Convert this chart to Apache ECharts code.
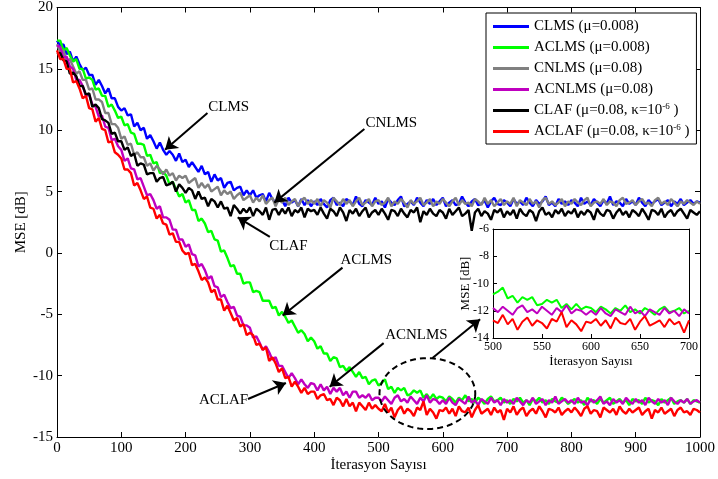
<!DOCTYPE html>
<html>
<head>
<meta charset="utf-8">
<script src="https://cdn.jsdelivr.net/npm/echarts@6/dist/echarts.min.js"></script>
<style>
  html, body { margin: 0; padding: 0; background: #fff; }
  #chart { width: 718px; height: 479px; }
</style>
</head>
<body>
<div id="chart"></div>
<script>
// MSE learning curves (dB), one sample every STEP iterations from 0 to 1000
const STEP = 5;

const clms = [
  17.3,16.9,17.0,16.2,16.4,15.6,16.0,15.4,14.9,15.1,14.5,14.5,13.7,14.1,13.6,13.0,13.4,12.6,12.6,11.9,
  11.6,11.8,11.2,11.3,10.3,10.6,10.0,10.2,9.3,9.6,9.1,8.5,9.0,8.4,8.0,8.3,8.0,7.5,8.1,7.4,
  7.6,7.0,7.4,7.0,6.6,7.1,6.4,6.6,5.8,6.4,5.9,6.1,5.3,5.7,5.8,5.1,5.3,5.4,4.7,5.1,
  4.7,5.1,4.5,4.7,4.8,4.2,4.9,4.4,4.1,4.6,4.3,3.8,4.5,4.1,4.3,3.8,4.4,3.9,4.3,3.8,
  4.2,3.9,4.4,4.0,3.7,4.3,4.5,3.9,4.1,3.8,4.4,4.2,3.9,4.6,4.0,3.8,4.3,4.1,3.9,4.5,
  4.0,4.2,3.7,4.4,4.1,3.9,4.3,4.6,3.8,4.0,4.2,3.9,4.5,4.1,3.8,4.3,4.0,4.4,3.9,4.2,
  4.5,3.8,4.1,4.3,3.9,4.0,4.6,4.1,3.8,4.2,4.4,3.9,4.0,4.3,3.7,4.2,4.5,4.0,3.9,4.3,
  4.1,3.8,4.4,4.0,4.2,3.9,4.5,4.1,3.8,4.3,4.0,4.2,4.6,3.9,4.1,3.8,4.4,4.0,4.2,3.9,
  4.3,4.1,3.8,4.5,4.0,4.2,3.9,4.4,4.1,3.8,4.3,4.0,4.6,3.9,4.2,4.1,3.8,4.4,4.0,4.2,
  3.9,4.5,4.1,3.8,4.3,4.0,4.2,4.4,3.9,4.1,4.3,3.8,4.2,4.0,4.4,3.9,4.1,4.3,4.0,4.2,4.1
];

const aclms = [
  17.3,17.3,16.5,16.7,16.1,15.6,15.8,15.0,15.0,14.2,14.3,14.1,13.3,13.4,12.8,12.8,11.9,12.1,11.6,11.0,
  11.1,10.4,10.5,9.8,9.7,8.9,8.9,8.8,7.9,8.0,7.3,7.4,6.5,6.6,6.3,5.6,5.8,5.2,4.6,4.8,
  4.1,4.3,3.5,3.5,2.6,2.8,2.4,1.7,1.8,1.1,1.0,0.1,0.2,-0.4,-1.1,-1.0,-1.7,-1.7,-2.5,-2.4,
  -2.4,-3.2,-3.1,-3.2,-3.9,-3.9,-3.9,-4.5,-4.4,-5.1,-4.8,-5.2,-5.7,-5.5,-6.0,-6.5,-6.3,-6.6,-7.2,-6.9,
  -7.2,-7.8,-7.6,-8.2,-8.2,-8.8,-8.5,-8.6,-9.3,-9.2,-9.6,-9.3,-9.7,-10.1,-9.7,-10.2,-10.1,-10.7,-10.4,-10.3,
  -10.8,-10.6,-10.3,-11.1,-10.9,-11.4,-11.0,-11.2,-11.0,-11.6,-11.5,-11.2,-11.4,-11.2,-11.8,-11.5,-11.9,-11.5,-11.9,-11.7,
  -11.8,-12.1,-11.7,-11.9,-12.2,-11.8,-12.0,-11.6,-12.1,-11.9,-12.2,-11.8,-12.0,-12.3,-11.9,-11.7,-12.1,-12.0,-11.8,-12.2,
  -12.0,-12.3,-11.9,-12.1,-11.8,-12.2,-12.0,-12.4,-11.9,-12.1,-11.8,-12.2,-12.0,-12.3,-11.9,-12.1,-12.2,-11.8,-12.0,-12.3,
  -12.1,-11.9,-12.2,-12.0,-12.4,-11.8,-12.1,-12.0,-12.3,-11.9,-12.2,-12.0,-11.8,-12.3,-12.1,-11.9,-12.2,-12.0,-12.4,-11.9,
  -12.1,-12.0,-12.3,-11.8,-12.2,-12.0,-12.1,-12.4,-11.9,-12.2,-12.0,-11.8,-12.3,-12.1,-12.0,-12.2,-11.9,-12.3,-12.0,-12.1,-12.2
];

const cnlms = [
  17.0,16.4,16.5,15.6,15.8,15.2,14.6,14.8,14.1,14.1,13.3,13.4,12.5,12.5,12.3,11.4,11.4,10.5,10.5,10.2,
  9.3,9.5,8.8,8.9,8.0,8.2,7.8,7.8,7.1,7.3,6.7,7.1,6.8,6.4,6.8,6.3,6.5,5.9,6.3,6.1,
  6.3,5.7,5.9,6.1,5.3,5.7,5.3,5.6,5.0,5.2,5.4,4.7,5.1,4.8,5.0,4.4,4.7,4.9,4.3,4.5,
  4.7,4.1,4.5,4.2,4.7,4.0,4.3,4.5,3.8,4.4,4.1,4.5,3.9,4.2,4.4,3.8,4.3,4.5,4.0,4.3,
  4.0,4.4,3.8,4.3,4.1,3.7,4.5,4.2,3.9,4.4,4.0,4.3,3.8,4.2,4.5,3.9,4.1,4.4,3.8,4.2,
  4.3,3.9,4.1,4.5,3.8,4.2,4.0,4.4,4.1,3.7,4.3,4.0,4.2,4.5,3.9,4.1,4.4,3.8,4.2,4.0,
  4.4,4.1,3.8,4.2,4.5,3.9,4.3,4.0,4.1,3.8,4.4,4.2,3.9,4.5,4.0,4.3,3.8,4.1,4.4,3.9,
  4.2,4.0,4.5,3.8,4.3,4.1,3.9,4.4,4.0,4.2,3.7,4.3,4.5,4.0,4.2,3.9,4.1,4.4,3.8,4.2,
  4.0,4.4,4.1,3.9,4.3,4.5,3.8,4.1,4.2,4.0,4.4,3.9,4.2,4.1,3.8,4.3,4.5,4.0,4.1,4.3,
  3.9,4.2,4.4,4.0,4.1,3.8,4.3,4.5,4.0,4.2,3.9,4.4,4.1,3.8,4.2,4.0,4.3,4.1,3.9,4.2,4.0
];

const acnlms = [
  16.9,16.8,15.9,16.0,15.2,15.0,14.1,14.1,13.6,12.8,12.9,12.1,11.9,11.1,11.2,10.3,10.2,9.2,9.3,8.7,
  8.4,7.5,7.7,6.9,6.8,6.0,6.1,5.4,4.7,4.8,4.3,3.6,3.8,2.9,2.9,2.7,1.9,1.9,1.1,1.1,
  0.5,0.7,-0.1,-0.2,-1.1,-0.9,-1.4,-2.1,-1.9,-2.7,-2.8,-3.6,-3.4,-4.0,-4.5,-4.4,-5.1,-5.2,-5.9,-5.9,
  -6.1,-6.9,-6.8,-7.3,-7.9,-7.6,-8.1,-8.7,-8.5,-9.2,-9.2,-9.7,-10.2,-9.8,-10.2,-10.7,-10.3,-10.7,-11.0,-10.6,
  -10.7,-11.2,-10.7,-11.2,-10.9,-11.5,-11.0,-11.3,-11.0,-11.6,-11.3,-11.8,-11.3,-11.3,-11.8,-11.6,-11.8,-11.5,-12.0,-11.8,
  -11.8,-12.1,-11.7,-12.0,-12.3,-11.8,-11.6,-12.1,-11.9,-12.2,-11.7,-12.0,-12.3,-11.8,-12.1,-11.6,-12.2,-11.9,-12.0,-12.3,
  -12.0,-12.3,-11.8,-12.2,-12.4,-11.9,-12.1,-12.3,-11.7,-12.2,-12.0,-12.4,-11.9,-12.1,-12.3,-11.8,-12.2,-12.0,-12.4,-11.9,
  -12.2,-12.0,-12.3,-11.8,-12.1,-12.4,-12.0,-12.2,-11.8,-12.3,-12.1,-11.9,-12.4,-12.0,-12.2,-11.7,-12.3,-12.1,-11.9,-12.2,
  -12.0,-12.3,-11.8,-12.2,-12.1,-12.4,-11.9,-12.2,-12.0,-11.7,-12.3,-12.1,-12.4,-11.9,-12.2,-12.0,-12.3,-11.8,-12.1,-12.3,
  -11.9,-12.2,-12.0,-12.4,-11.8,-12.1,-12.3,-11.9,-12.2,-12.0,-12.4,-11.8,-12.1,-12.3,-12.0,-12.2,-11.9,-12.3,-12.1,-12.0,-12.2
];

const claf = [
  16.2,16.3,15.7,15.6,14.6,14.7,14.4,13.6,13.6,12.9,13.0,11.9,12.1,11.8,10.9,10.8,10.6,9.7,9.8,9.1,
  9.1,8.4,8.6,7.9,8.1,7.1,7.3,7.2,6.4,6.5,6.5,5.8,6.1,6.2,5.5,5.6,5.8,5.0,5.6,5.3,
  4.9,5.3,5.1,4.4,5.0,4.4,4.5,3.8,4.4,4.2,3.7,4.2,3.6,3.7,3.0,3.9,3.6,3.2,3.6,3.3,
  3.7,3.0,3.6,3.4,3.1,3.7,2.7,3.5,3.6,3.1,3.6,3.2,3.7,3.0,3.5,3.3,3.7,2.9,3.6,3.4,
  3.5,3.1,3.7,3.2,2.8,3.6,3.4,3.0,3.7,3.3,2.6,3.5,3.2,3.6,3.0,3.4,3.7,2.9,3.3,3.5,
  3.1,3.6,3.2,2.7,3.5,3.4,3.0,3.6,3.2,2.9,3.5,3.3,3.7,2.5,3.4,3.1,3.6,3.2,3.0,3.5,
  3.3,2.8,3.6,3.1,3.4,3.7,3.0,3.2,3.5,1.8,3.3,3.6,3.0,3.4,3.2,2.7,3.5,3.3,3.6,2.9,
  3.4,3.1,3.5,2.8,3.6,3.2,3.0,3.5,3.3,2.6,3.4,3.7,3.1,3.3,2.9,3.5,3.2,3.6,3.0,3.4,
  3.2,3.6,2.9,3.4,3.1,3.5,3.3,2.7,3.6,3.2,3.0,3.5,3.4,2.8,3.3,3.6,3.1,3.4,2.9,3.5,
  3.3,3.0,3.6,3.2,2.7,3.5,3.4,3.1,3.6,2.9,3.3,3.5,3.0,3.4,3.6,3.2,2.8,3.5,3.3,3.1,3.4
];

const aclaf = [
  16.5,15.8,15.8,15.0,15.0,13.9,14.0,13.4,12.6,12.8,11.8,11.7,10.7,11.0,10.1,10.0,9.0,9.1,8.2,8.0,
  7.7,6.8,6.8,6.5,5.5,5.7,5.1,4.4,4.6,3.7,3.6,2.8,3.1,2.4,2.3,1.5,1.6,0.9,0.9,0.2,
  -0.1,0.0,-1.0,-0.9,-1.5,-2.2,-2.0,-2.4,-3.2,-3.0,-3.8,-3.8,-4.7,-4.3,-4.9,-5.5,-5.3,-6.0,-5.8,-6.7,
  -6.5,-6.7,-7.5,-7.4,-7.9,-7.7,-8.8,-8.5,-9.0,-9.7,-9.4,-10.2,-10.1,-10.9,-10.5,-10.9,-11.4,-11.0,-11.5,-11.3,
  -11.3,-11.9,-11.6,-11.5,-12.0,-11.9,-12.4,-11.8,-12.0,-12.5,-11.9,-12.5,-12.2,-12.9,-12.2,-12.5,-12.8,-12.2,-12.7,-12.4,
  -12.7,-12.9,-12.3,-13.0,-12.6,-13.4,-12.8,-12.5,-13.1,-12.7,-12.9,-13.3,-12.6,-12.8,-12.1,-13.2,-12.7,-13.0,-13.5,-12.8,
  -12.9,-12.6,-13.1,-12.7,-13.3,-12.5,-12.9,-13.0,-12.6,-13.4,-12.8,-12.4,-13.1,-12.9,-12.7,-13.2,-12.6,-13.0,-12.8,-13.6,
  -12.7,-13.0,-12.5,-13.2,-12.8,-12.6,-13.3,-12.9,-12.7,-13.1,-12.5,-12.9,-13.4,-12.7,-12.8,-13.0,-12.6,-13.2,-12.9,-12.7,
  -13.0,-12.6,-12.9,-13.3,-12.7,-12.5,-13.1,-12.8,-12.9,-13.4,-12.6,-12.8,-13.0,-12.7,-13.2,-12.5,-12.9,-13.1,-12.7,-13.0,
  -12.8,-12.6,-13.2,-12.9,-12.7,-13.5,-12.8,-13.0,-12.6,-13.1,-12.9,-12.7,-13.3,-12.8,-12.6,-13.0,-12.9,-13.2,-12.7,-12.8,-13.0
];

// Legend labels (the "^-6" part is set as a superscript)
const seriesNames = [
  'CLMS (μ=0.008)',
  'ACLMS (μ=0.008)',
  'CNLMS (μ=0.08)',
  'ACNLMS (μ=0.08)',
  'CLAF (μ=0.08, κ=10^-6 )',
  'ACLAF (μ=0.08, κ=10^-6 )'
];
const seriesColors = ['#0000ff', '#00ff00', '#808080', '#bf00bf', '#000000', '#ff0000'];
const seriesValues = [clms, aclms, cnlms, acnlms, claf, aclaf];

// Zoomed window
const insetRange = [500, 700];
const insetSeries = [1, 3, 5]; // ACLMS, ACNLMS, ACLAF

// Text callouts: [label, label position, arrow start, arrow tip] in (iteration, dB)
const callouts = [
  ['CLMS',   [267, 11.9],  [234, 11.4],  [168, 8.4]],
  ['CNLMS',  [520, 10.6],  [478, 10.1],  [338, 4.1]],
  ['CLAF',   [360, 0.55],  [331, 1.3],   [281, 2.9]],
  ['ACLMS',  [481, -0.6],  [444, -1.2],  [351, -5.1]],
  ['ACNLMS', [559, -6.7],  [508, -7.35], [424, -10.9]],
  ['ACLAF',  [259, -12.0], [297, -11.9], [356, -10.6]]
];
// Dashed ring around the zoomed region and the arrow pointing to the inset
const ringCenter = [576, -11.46];
const ringRadius = [74.5, 2.89];
const ringArrow = [[584, -8.57], [658, -5.4]];

const FONT = '"Liberation Serif", "Times New Roman", serif';
const iterations = clms.map((_, i) => i * STEP);
const toPairs = vals => vals.map((v, i) => [iterations[i], v]);
const plainNumber = v => String(v);

function axis(extra) {
  const base = {
    type: 'value',
    nameMoveOverlap: false,
    axisLine: { show: true, onZero: false, lineStyle: { color: '#000', width: 1 } },
    axisTick: { show: true, inside: true, length: 5, lineStyle: { color: '#000', width: 1 } },
    splitLine: { show: false },
    axisLabel: { color: '#000', fontFamily: FONT, fontSize: 15, margin: 4, formatter: plainNumber },
    nameTextStyle: { color: '#000', fontFamily: FONT, fontSize: 15 }
  };
  const out = Object.assign({}, base, extra);
  if (extra.axisLabel) out.axisLabel = Object.assign({}, base.axisLabel, extra.axisLabel);
  if (extra.nameTextStyle) out.nameTextStyle = Object.assign({}, base.nameTextStyle, extra.nameTextStyle);
  return out;
}

const xAxes = [
  axis({ gridIndex: 0, position: 'bottom', min: 0, max: 1000, interval: 100,
         name: 'İterasyon Sayısı', nameLocation: 'middle', nameGap: 21 }),
  axis({ gridIndex: 0, position: 'top', min: 0, max: 1000, interval: 100, axisLabel: { show: false } }),
  axis({ gridIndex: 1, position: 'bottom', min: insetRange[0], max: insetRange[1], interval: 50, z: 6,
         axisLabel: { fontSize: 12, margin: 3 },
         name: 'İterasyon Sayısı', nameLocation: 'middle', nameGap: 17, nameTextStyle: { fontSize: 13 },
         axisTick: { show: true, inside: true, length: 4, lineStyle: { color: '#000' } } }),
  axis({ gridIndex: 1, position: 'top', min: insetRange[0], max: insetRange[1], interval: 50, z: 6,
         axisLabel: { show: false }, axisTick: { show: false } })
];
const yAxes = [
  axis({ gridIndex: 0, position: 'left', min: -15, max: 20, interval: 5,
         name: 'MSE [dB]', nameLocation: 'middle', nameGap: 28, nameRotate: 90 }),
  axis({ gridIndex: 0, position: 'right', min: -15, max: 20, interval: 5, axisLabel: { show: false } }),
  axis({ gridIndex: 1, position: 'left', min: -14, max: -6, interval: 2, z: 6,
         axisLabel: { fontSize: 12, margin: 4 },
         name: 'MSE [dB]', nameLocation: 'middle', nameGap: 21, nameRotate: 90, nameTextStyle: { fontSize: 13 },
         axisTick: { show: true, inside: true, length: 4, lineStyle: { color: '#000' } } }),
  axis({ gridIndex: 1, position: 'right', min: -14, max: -6, interval: 2, z: 6,
         axisLabel: { show: false }, axisTick: { show: false } })
];

const series = seriesNames.map((name, k) => ({
  name,
  type: 'line',
  xAxisIndex: 0,
  yAxisIndex: 0,
  data: toPairs(seriesValues[k]),
  showSymbol: false,
  symbol: 'none',
  color: seriesColors[k],
  lineStyle: { color: seriesColors[k], width: 2.4 },
  z: 2
}));

insetSeries.forEach(k => {
  const pts = toPairs(seriesValues[k]).filter(p => p[0] >= insetRange[0] && p[0] <= insetRange[1]);
  series.push({
    name: seriesNames[k] + ' ',
    type: 'line',
    xAxisIndex: 2,
    yAxisIndex: 2,
    data: pts,
    showSymbol: false,
    symbol: 'none',
    lineStyle: { color: seriesColors[k], width: 2 },
    z: 7
  });
});

// Callout arrows and labels
series.push({
  name: 'callouts',
  type: 'line',
  xAxisIndex: 0,
  yAxisIndex: 0,
  data: [],
  color: '#000',
  z: 4,
  silent: true,
  markLine: {
    silent: true,
    symbol: ['none', 'arrow'],
    symbolSize: 12,
    itemStyle: { color: '#000' },
    lineStyle: { color: '#000', width: 2, type: 'solid' },
    label: { show: false },
    animation: false,
    data: callouts.map(c => [{ coord: c[2] }, { coord: c[3] }])
      .concat([[{ coord: ringArrow[0] }, { coord: ringArrow[1] }]])
  },
  markPoint: {
    silent: true,
    symbol: 'circle',
    symbolSize: 1,
    itemStyle: { color: 'rgba(0,0,0,0)' },
    label: { show: true, position: 'inside', formatter: '{b}', color: '#000', fontFamily: FONT, fontSize: 15 },
    animation: false,
    data: callouts.map(c => ({ name: c[0], coord: c[1] }))
  }
});

const option = {
  animation: false,
  backgroundColor: '#fff',
  textStyle: { fontFamily: FONT },
  grid: [
    { left: 57, top: 7, width: 644, height: 430, containLabel: false },
    { left: 493, top: 229, width: 196, height: 109, containLabel: false,
      show: true, backgroundColor: '#fff', borderWidth: 0, z: 5 }
  ],
  xAxis: xAxes,
  yAxis: yAxes,
  legend: {
    data: seriesNames,
    orient: 'vertical',
    left: 486,
    top: 13,
    padding: [5, 7, 4, 7],
    itemGap: 4,
    itemWidth: 36,
    itemHeight: 3,
    icon: 'rect',
    backgroundColor: '#fff',
    borderColor: '#000',
    borderWidth: 1,
    z: 10,
    selectedMode: false,
    formatter: name => name.replace('^-6', '{sup|-6}'),
    textStyle: {
      color: '#000', fontFamily: FONT, fontSize: 15, lineHeight: 17,
      rich: { sup: { fontFamily: FONT, fontSize: 9, color: '#000', verticalAlign: 'top', lineHeight: 17 } }
    }
  },
  series
};

const chart = echarts.init(document.getElementById('chart'));
chart.setOption(option);

// Dashed ellipse around the zoomed region, placed in data coordinates
const c = chart.convertToPixel({ gridIndex: 0 }, ringCenter);
const e = chart.convertToPixel({ gridIndex: 0 }, [ringCenter[0] + ringRadius[0], ringCenter[1] + ringRadius[1]]);
const rx = Math.abs(e[0] - c[0]);
const ry = Math.abs(e[1] - c[1]);
const ringPts = [];
for (let a = 0; a < 72; a++) {
  const t = a / 72 * Math.PI * 2;
  ringPts.push([c[0] + rx * Math.cos(t), c[1] + ry * Math.sin(t)]);
}
chart.setOption({
  graphic: [{
    type: 'polygon',
    silent: true,
    z: 4,
    shape: { points: ringPts },
    style: { fill: 'none', stroke: '#000', lineWidth: 2, lineDash: [6, 4] }
  }]
});
</script>
</body>
</html>
